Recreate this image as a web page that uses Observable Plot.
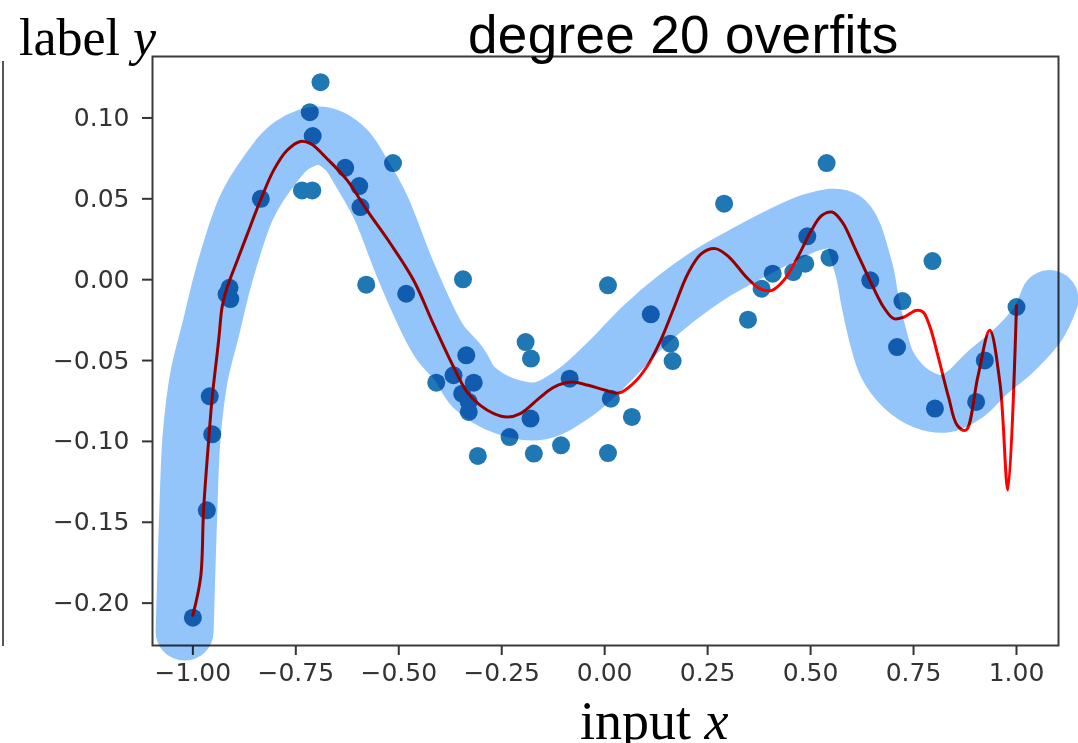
<!DOCTYPE html>
<html>
<head>
<meta charset="utf-8">
<script src="https://cdn.jsdelivr.net/npm/d3@7"></script>
<script src="https://cdn.jsdelivr.net/npm/@observablehq/plot@0.6"></script>
<style>
  html, body { margin: 0; padding: 0; background: #fff; }
  #wrap { position: relative; width: 1078px; height: 743px; overflow: hidden; }
  #wrap > svg { position: absolute; left: 0; top: 0; }
  #deco { position: absolute; left: 0; top: 0; pointer-events: none; }
</style>
</head>
<body>
<div id="wrap"></div>
<script>
// ---- data ----
const pointsX = [-1.000, -0.966, -0.953, -0.959, -0.911, -0.909, -0.918, -0.835, -0.735, -0.710,
  -0.716, -0.709, -0.690, -0.630, -0.596, -0.593, -0.514, -0.579, -0.482, -0.344,
  -0.192, -0.179, -0.336, -0.409, -0.367, -0.318, -0.346, -0.330, -0.330, -0.231,
  -0.308, -0.180, -0.172, -0.085, -0.106, 0.008, 0.015, 0.008, 0.066, 0.112,
  0.159, 0.165, 0.290, 0.348, 0.381, 0.408, 0.458, 0.487, 0.492, 0.546,
  0.539, 0.645, 0.723, 0.710, 0.796, 0.802, 0.902, 0.923, 1.000];
const pointsY = [-0.209, -0.1426, -0.0956, -0.0721, -0.005, -0.012, -0.009, 0.050, 0.0552, 0.0552,
  0.1036, 0.0888, 0.1221, 0.0692, 0.0579, 0.0449, 0.0721, -0.0031, -0.0087, 0.0002,
  -0.0386, -0.0488, -0.0468, -0.0637, -0.0591, -0.0637, -0.0705, -0.0756, -0.0818, -0.0973,
  -0.109, -0.0859, -0.1075, -0.0612, -0.1024, -0.0035, -0.0736, -0.1072, -0.0849, -0.0214,
  -0.0396, -0.0503, 0.0470, -0.0247, -0.0056, 0.0037, 0.0047, 0.0099, 0.0268, 0.0136,
  0.0721, -0.0004, -0.0132, -0.0417, 0.0115, -0.0797, -0.0756, -0.0499, -0.0169];

// degree-20 polynomial fit (red line)
const fitX = [-1.000, -0.981, -0.974, -0.961, -0.953, -0.941, -0.936, -0.929, -0.917, -0.895,
  -0.868, -0.836, -0.804, -0.771, -0.739, -0.714, -0.674, -0.625, -0.577, -0.520,
  -0.464, -0.415, -0.367, -0.334, -0.302, -0.269, -0.237, -0.205, -0.156, -0.123,
  -0.081, -0.040, 0.002, 0.035, 0.069, 0.102, 0.136, 0.169, 0.202, 0.235,
  0.269, 0.302, 0.344, 0.377, 0.406, 0.435, 0.469, 0.502, 0.527, 0.552,
  0.577, 0.610, 0.644, 0.677, 0.702, 0.727, 0.756, 0.773, 0.790, 0.810,
  0.835, 0.856, 0.877, 0.906, 0.935, 0.960, 0.979, 1.000];
const fitY = [-0.2075, -0.1838, -0.1426, -0.0973, -0.0726, -0.0457, -0.034, -0.0169, -0.005, 0.010,
  0.028, 0.049, 0.0676, 0.080, 0.0855, 0.0841, 0.0748, 0.0614, 0.0428, 0.0222,
  -0.0004, -0.028, -0.054, -0.0695, -0.0777, -0.0828, -0.0849, -0.0828, -0.0726, -0.0664,
  -0.0633, -0.0653, -0.0684, -0.0701, -0.0643, -0.054, -0.0375, -0.0169, 0.0037, 0.0161,
  0.0192, 0.014, 0.0016, -0.0056, -0.0066, -0.0004, 0.014, 0.0305, 0.0397, 0.0418,
  0.0356, 0.0181, -0.0004, -0.0169, -0.0241, -0.0231, -0.019, -0.020, -0.0293, -0.0478,
  -0.0726, -0.090, -0.0931, -0.0602, -0.0313, -0.0643, -0.130, -0.0159];

// hand-drawn highlighter band (centre line)
const bandX = [-1.020, -1.011, -1.003, -0.985, -0.957, -0.923, -0.870, -0.820, -0.760, -0.688,
  -0.630, -0.589, -0.544, -0.480, -0.403, -0.354, -0.318, -0.237, -0.156, -0.073,
  0.010, 0.094, 0.177, 0.260, 0.344, 0.427, 0.510, 0.580, 0.628, 0.644,
  0.662, 0.685, 0.727, 0.777, 0.827, 0.877, 0.927, 0.994, 1.052, 1.080];
const bandY = [-0.2176, -0.1426, -0.097, -0.060, -0.031, 0.004, 0.0445, 0.0655, 0.083, 0.089,
  0.081, 0.0655, 0.0449, 0.0037, -0.0375, -0.052, -0.0664, -0.0786, -0.0810, -0.0700,
  -0.0510, -0.0290, -0.0110, 0.0040, 0.0160, 0.0270, 0.0360, 0.0370, 0.0078, -0.0128,
  -0.0334, -0.052, -0.0664, -0.0746, -0.0766, -0.0705, -0.0581, -0.0437, -0.0272, -0.012];

const xTicks = [-1.00, -0.75, -0.50, -0.25, 0.00, 0.25, 0.50, 0.75, 1.00];
const yTicks = [-0.20, -0.15, -0.10, -0.05, 0.00, 0.05, 0.10];
const xDomain = [-1.098, 1.102];
const yDomain = [-0.2262, 0.138];

const titleText = "degree 20 overfits";
const yLabelText = "label ";
const yLabelVar = "y";
const xLabelText = "input ";
const xLabelVar = "x";

// ---- build tables ----
const points = pointsX.map((x, i) => ({x, y: pointsY[i]}));
const fit = fitX.map((x, i) => ({x, y: fitY[i]}));
const band = bandX.map((x, i) => ({x, y: bandY[i]}));
const fmt = d3.format(".2f");

const chart = Plot.plot({
  width: 1078,
  height: 743,
  marginLeft: 152,
  marginRight: 20,
  marginTop: 56,
  marginBottom: 98,
  style: {fontFamily: "DejaVu Sans", fontSize: "25px", background: "white", overflow: "visible"},
  x: {domain: xDomain},
  y: {domain: yDomain},
  marks: [
    Plot.axisX({ticks: xTicks, tickFormat: fmt, tickSize: 10, tickPadding: 8, label: null,
      color: "#333", strokeWidth: 2, fontSize: 25}),
    Plot.axisY({ticks: yTicks, tickFormat: fmt, tickSize: 10, tickPadding: 13, label: null,
      color: "#333", strokeWidth: 2, fontSize: 25}),
    Plot.dot(points, {x: "x", y: "y", r: 9, fill: "#1f77b4", stroke: "none"}),
    Plot.line(fit, {x: "x", y: "y", stroke: "#ff0000", strokeWidth: 3, curve: "catmull-rom"}),
    Plot.frame({stroke: "#3a3a3a", strokeWidth: 2}),
    Plot.line(band, {x: "x", y: "y", stroke: "#93c4fa", strokeWidth: 58, curve: "catmull-rom",
      strokeLinecap: "round", strokeLinejoin: "round", mixBlendMode: "multiply"})
  ]
});
const wrap = document.getElementById("wrap");
wrap.appendChild(chart);

// ---- decorative texts and the edge of the neighbouring panel ----
const deco = d3.select(wrap).append("svg").attr("id", "deco").attr("width", 1078).attr("height", 743);
deco.append("line").attr("x1", 3).attr("x2", 3).attr("y1", 61).attr("y2", 646)
  .attr("stroke", "#555").attr("stroke-width", 2);
const yl = deco.append("text").attr("x", 19).attr("y", 55)
  .style("font-family", "'Liberation Serif', 'Times New Roman', serif").style("font-size", "52px").attr("fill", "#000");
yl.append("tspan").text(yLabelText);
yl.append("tspan").style("font-style", "italic").text(yLabelVar);
deco.append("text").attr("x", 468).attr("y", 53)
  .style("font-family", "'Liberation Sans', Arial, sans-serif").style("font-size", "53px")
  .style("letter-spacing", "0.35px").attr("fill", "#000").text(titleText);
const xl = deco.append("text").attr("x", 580).attr("y", 739)
  .style("font-family", "'Liberation Serif', 'Times New Roman', serif").style("font-size", "54px").attr("fill", "#000");
xl.append("tspan").text(xLabelText);
xl.append("tspan").style("font-style", "italic").text(xLabelVar);
</script>
</body>
</html>
